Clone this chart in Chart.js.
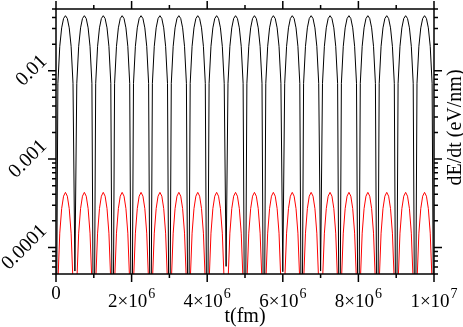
<!DOCTYPE html>
<html>
<head>
<meta charset="utf-8">
<script src="https://cdn.jsdelivr.net/npm/chart.js@4"></script>
<style>
  html, body { margin: 0; padding: 0; background: #fff; }
</style>
</head>
<body>
<canvas id="dedt" width="463" height="327"></canvas>
<script>
// time in fm
const timeFm = [
  0, 5e4, 1e5, 1.5e5, 2e5, 2.5e5, 3e5, 3.5e5, 4e5, 4.5e5,
  5e5, 5.5e5, 6e5, 6.5e5, 7e5, 7.5e5, 8e5, 8.5e5, 9e5, 9.5e5,
  1e6, 1.05e6, 1.1e6, 1.15e6, 1.2e6, 1.25e6, 1.3e6, 1.35e6, 1.4e6, 1.45e6,
  1.5e6, 1.55e6, 1.6e6, 1.65e6, 1.7e6, 1.75e6, 1.8e6, 1.85e6, 1.9e6, 1.95e6,
  2e6, 2.05e6, 2.1e6, 2.15e6, 2.2e6, 2.25e6, 2.3e6, 2.35e6, 2.4e6, 2.45e6,
  2.5e6, 2.55e6, 2.6e6, 2.65e6, 2.7e6, 2.75e6, 2.8e6, 2.85e6, 2.9e6, 2.95e6,
  3e6, 3.05e6, 3.1e6, 3.15e6, 3.2e6, 3.25e6, 3.3e6, 3.35e6, 3.4e6, 3.45e6,
  3.5e6, 3.55e6, 3.6e6, 3.65e6, 3.7e6, 3.75e6, 3.8e6, 3.85e6, 3.9e6, 3.95e6,
  4e6, 4.05e6, 4.1e6, 4.15e6, 4.2e6, 4.25e6, 4.3e6, 4.35e6, 4.4e6, 4.45e6,
  4.5e6, 4.55e6, 4.6e6, 4.65e6, 4.7e6, 4.75e6, 4.8e6, 4.85e6, 4.9e6, 4.95e6,
  5e6, 5.05e6, 5.1e6, 5.15e6, 5.2e6, 5.25e6, 5.3e6, 5.35e6, 5.4e6, 5.45e6,
  5.5e6, 5.55e6, 5.6e6, 5.65e6, 5.7e6, 5.75e6, 5.8e6, 5.85e6, 5.9e6, 5.95e6,
  6e6, 6.05e6, 6.1e6, 6.15e6, 6.2e6, 6.25e6, 6.3e6, 6.35e6, 6.4e6, 6.45e6,
  6.5e6, 6.55e6, 6.6e6, 6.65e6, 6.7e6, 6.75e6, 6.8e6, 6.85e6, 6.9e6, 6.95e6,
  7e6, 7.05e6, 7.1e6, 7.15e6, 7.2e6, 7.25e6, 7.3e6, 7.35e6, 7.4e6, 7.45e6,
  7.5e6, 7.55e6, 7.6e6, 7.65e6, 7.7e6, 7.75e6, 7.8e6, 7.85e6, 7.9e6, 7.95e6,
  8e6, 8.05e6, 8.1e6, 8.15e6, 8.2e6, 8.25e6, 8.3e6, 8.35e6, 8.4e6, 8.45e6,
  8.5e6, 8.55e6, 8.6e6, 8.65e6, 8.7e6, 8.75e6, 8.8e6, 8.85e6, 8.9e6, 8.95e6,
  9e6, 9.05e6, 9.1e6, 9.15e6, 9.2e6, 9.25e6, 9.3e6, 9.35e6, 9.4e6, 9.45e6,
  9.5e6, 9.55e6, 9.6e6, 9.65e6, 9.7e6, 9.75e6, 9.8e6, 9.85e6, 9.9e6, 9.95e6,
  1e7
];

// dE/dt (eV/nm), black curve
const dedtBlack = [
  1e-6, 0.0072, 0.0189, 0.0306, 0.0390, 0.042, 0.0390, 0.0306, 0.0189, 0.0072,
  5.4e-5, 0.0072, 0.0189, 0.0306, 0.0390, 0.042, 0.0390, 0.0306, 0.0189, 0.0072,
  1e-6, 0.0072, 0.0189, 0.0306, 0.0390, 0.042, 0.0390, 0.0306, 0.0189, 0.0072,
  1e-6, 0.0072, 0.0189, 0.0306, 0.0390, 0.042, 0.0390, 0.0306, 0.0189, 0.0072,
  1e-6, 0.0072, 0.0189, 0.0306, 0.0390, 0.042, 0.0390, 0.0306, 0.0189, 0.0072,
  1e-6, 0.0072, 0.0189, 0.0306, 0.0390, 0.042, 0.0390, 0.0306, 0.0189, 0.0072,
  1e-6, 0.0072, 0.0189, 0.0306, 0.0390, 0.042, 0.0390, 0.0306, 0.0189, 0.0072,
  1e-6, 0.0072, 0.0189, 0.0306, 0.0390, 0.042, 0.0390, 0.0306, 0.0189, 0.0072,
  1e-6, 0.0072, 0.0189, 0.0306, 0.0390, 0.042, 0.0390, 0.0306, 0.0189, 0.0072,
  6.1e-5, 0.0072, 0.0189, 0.0306, 0.0390, 0.042, 0.0390, 0.0306, 0.0189, 0.0072,
  1e-6, 0.0072, 0.0189, 0.0306, 0.0390, 0.042, 0.0390, 0.0306, 0.0189, 0.0072,
  1e-6, 0.0072, 0.0189, 0.0306, 0.0390, 0.042, 0.0390, 0.0306, 0.0189, 0.0072,
  5.3e-5, 0.0072, 0.0189, 0.0306, 0.0390, 0.042, 0.0390, 0.0306, 0.0189, 0.0072,
  1e-6, 0.0072, 0.0189, 0.0306, 0.0390, 0.042, 0.0390, 0.0306, 0.0189, 0.0072,
  5.4e-5, 0.0072, 0.0189, 0.0306, 0.0390, 0.042, 0.0390, 0.0306, 0.0189, 0.0072,
  1e-6, 0.0072, 0.0189, 0.0306, 0.0390, 0.042, 0.0390, 0.0306, 0.0189, 0.0072,
  1e-6, 0.0072, 0.0189, 0.0306, 0.0390, 0.042, 0.0390, 0.0306, 0.0189, 0.0072,
  1e-6, 0.0072, 0.0189, 0.0306, 0.0390, 0.042, 0.0390, 0.0306, 0.0189, 0.0072,
  1e-6, 0.0072, 0.0189, 0.0306, 0.0390, 0.042, 0.0390, 0.0306, 0.0189, 0.0072,
  1e-6, 0.0072, 0.0189, 0.0306, 0.0390, 0.042, 0.0390, 0.0306, 0.0189, 0.0072,
  1e-6
];

// dE/dt (eV/nm), red curve
const dedtRed = [
  1e-8, 4.0e-5, 1.45e-4, 2.75e-4, 3.8e-4, 4.2e-4, 3.8e-4, 2.75e-4, 1.45e-4, 4.0e-5,
  1e-8, 4.0e-5, 1.45e-4, 2.75e-4, 3.8e-4, 4.2e-4, 3.8e-4, 2.75e-4, 1.45e-4, 4.0e-5,
  1e-8, 4.0e-5, 1.45e-4, 2.75e-4, 3.8e-4, 4.2e-4, 3.8e-4, 2.75e-4, 1.45e-4, 4.0e-5,
  1e-8, 4.0e-5, 1.45e-4, 2.75e-4, 3.8e-4, 4.2e-4, 3.8e-4, 2.75e-4, 1.45e-4, 4.0e-5,
  1e-8, 4.0e-5, 1.45e-4, 2.75e-4, 3.8e-4, 4.2e-4, 3.8e-4, 2.75e-4, 1.45e-4, 4.0e-5,
  1e-8, 4.0e-5, 1.45e-4, 2.75e-4, 3.8e-4, 4.2e-4, 3.8e-4, 2.75e-4, 1.45e-4, 4.0e-5,
  1e-8, 4.0e-5, 1.45e-4, 2.75e-4, 3.8e-4, 4.2e-4, 3.8e-4, 2.75e-4, 1.45e-4, 4.0e-5,
  1e-8, 4.0e-5, 1.45e-4, 2.75e-4, 3.8e-4, 4.2e-4, 3.8e-4, 2.75e-4, 1.45e-4, 4.0e-5,
  1e-8, 4.0e-5, 1.45e-4, 2.75e-4, 3.8e-4, 4.2e-4, 3.8e-4, 2.75e-4, 1.45e-4, 4.0e-5,
  1e-8, 4.0e-5, 1.45e-4, 2.75e-4, 3.8e-4, 4.2e-4, 3.8e-4, 2.75e-4, 1.45e-4, 4.0e-5,
  1e-8, 4.0e-5, 1.45e-4, 2.75e-4, 3.8e-4, 4.2e-4, 3.8e-4, 2.75e-4, 1.45e-4, 4.0e-5,
  1e-8, 4.0e-5, 1.45e-4, 2.75e-4, 3.8e-4, 4.2e-4, 3.8e-4, 2.75e-4, 1.45e-4, 4.0e-5,
  1e-8, 4.0e-5, 1.45e-4, 2.75e-4, 3.8e-4, 4.2e-4, 3.8e-4, 2.75e-4, 1.45e-4, 4.0e-5,
  1e-8, 4.0e-5, 1.45e-4, 2.75e-4, 3.8e-4, 4.2e-4, 3.8e-4, 2.75e-4, 1.45e-4, 4.0e-5,
  1e-8, 4.0e-5, 1.45e-4, 2.75e-4, 3.8e-4, 4.2e-4, 3.8e-4, 2.75e-4, 1.45e-4, 4.0e-5,
  1e-8, 4.0e-5, 1.45e-4, 2.75e-4, 3.8e-4, 4.2e-4, 3.8e-4, 2.75e-4, 1.45e-4, 4.0e-5,
  1e-8, 4.0e-5, 1.45e-4, 2.75e-4, 3.8e-4, 4.2e-4, 3.8e-4, 2.75e-4, 1.45e-4, 4.0e-5,
  1e-8, 4.0e-5, 1.45e-4, 2.75e-4, 3.8e-4, 4.2e-4, 3.8e-4, 2.75e-4, 1.45e-4, 4.0e-5,
  1e-8, 4.0e-5, 1.45e-4, 2.75e-4, 3.8e-4, 4.2e-4, 3.8e-4, 2.75e-4, 1.45e-4, 4.0e-5,
  1e-8, 4.0e-5, 1.45e-4, 2.75e-4, 3.8e-4, 4.2e-4, 3.8e-4, 2.75e-4, 1.45e-4, 4.0e-5,
  1e-8
];

// axis ticks and labels
const xMajorTicks = [0, 2e6, 4e6, 6e6, 8e6, 1e7];
const xMinorTicks = [1e6, 3e6, 5e6, 7e6, 9e6];
const xLabelBase = ['0', '2×10', '4×10', '6×10', '8×10', '1×10'];
const xLabelExp = ['', '6', '6', '6', '6', '7'];
const yMajorTicks = [1e-4, 1e-3, 1e-2];
const yMinorTicks = [5e-5, 6e-5, 7e-5, 8e-5, 9e-5,
  2e-4, 3e-4, 4e-4, 5e-4, 6e-4, 7e-4, 8e-4, 9e-4,
  2e-3, 3e-3, 4e-3, 5e-3, 6e-3, 7e-3, 8e-3, 9e-3,
  2e-2, 3e-2, 4e-2, 5e-2];
const yTickLabels = ['0.0001', '0.001', '0.01'];
const xTitle = 't(fm)';
const yTitle = 'dE/dt (eV/nm)';

const serif = '"Liberation Serif", "Times New Roman", serif';

// frame with outward ticks on all four sides, tick labels and the right-hand title
const frameAndTicks = {
  id: 'frameAndTicks',
  afterDatasetsDraw(chart) {
    const { ctx, chartArea: a, scales: { x, y } } = chart;
    ctx.save();
    ctx.strokeStyle = '#000';
    ctx.lineWidth = 1.5;
    ctx.strokeRect(a.left, a.top, a.right - a.left, a.bottom - a.top);
    ctx.beginPath();
    xMajorTicks.concat(xMinorTicks).forEach(v => {
      const px = x.getPixelForValue(v);
      const len = xMajorTicks.includes(v) ? 8 : 4;
      ctx.moveTo(px, a.bottom); ctx.lineTo(px, a.bottom + len);
      ctx.moveTo(px, a.top); ctx.lineTo(px, a.top - len);
    });
    yMajorTicks.concat(yMinorTicks).forEach(v => {
      const py = y.getPixelForValue(v);
      const len = yMajorTicks.includes(v) ? 8 : 4;
      ctx.moveTo(a.left, py); ctx.lineTo(a.left - len, py);
      ctx.moveTo(a.right, py); ctx.lineTo(a.right + len, py);
    });
    ctx.stroke();

    ctx.fillStyle = '#000';
    ctx.textBaseline = 'alphabetic';

    // x tick labels, exponent drawn as a real superscript
    xMajorTicks.forEach((v, i) => {
      const px = x.getPixelForValue(v);
      ctx.font = '19px ' + serif;
      const wb = ctx.measureText(xLabelBase[i]).width;
      ctx.font = '14px ' + serif;
      const we = xLabelExp[i] ? ctx.measureText(xLabelExp[i]).width + 1 : 0;
      const x0 = px - (wb + we) / 2;
      const base = xLabelExp[i] ? a.bottom + 33 : a.bottom + 25;
      ctx.textAlign = 'left';
      ctx.font = '19px ' + serif;
      ctx.fillText(xLabelBase[i], x0, base);
      if (xLabelExp[i]) {
        ctx.font = '14px ' + serif;
        ctx.fillText(xLabelExp[i], x0 + wb + 1, base - 9);
      }
    });

    // y tick labels, rotated 45 degrees and centred on their tick
    ctx.font = '20px ' + serif;
    ctx.textAlign = 'center';
    ctx.textBaseline = 'middle';
    yMajorTicks.forEach((v, i) => {
      const py = y.getPixelForValue(v);
      const w = ctx.measureText(yTickLabels[i]).width;
      ctx.save();
      ctx.translate(a.left - 12 - w * 0.354, py);
      ctx.rotate(-Math.PI / 4);
      ctx.fillText(yTickLabels[i], 0, 0);
      ctx.restore();
    });

    ctx.font = '20px ' + serif;
    ctx.translate(a.right + 22, (a.top + a.bottom) / 2 - 14);
    ctx.rotate(-Math.PI / 2);
    ctx.fillText(yTitle, 0, 0);
    ctx.restore();
  }
};

const ctx = document.getElementById('dedt').getContext('2d');

new Chart(ctx, {
  type: 'line',
  data: {
    datasets: [
      {
        data: timeFm.map((t, i) => ({ x: t, y: dedtBlack[i] })),
        borderColor: '#000000',
        borderWidth: 1,
        pointRadius: 0,
        tension: 0
      },
      {
        data: timeFm.map((t, i) => ({ x: t, y: dedtRed[i] })),
        borderColor: '#ff0000',
        borderWidth: 1,
        pointRadius: 0,
        tension: 0
      }
    ]
  },
  options: {
    responsive: false,
    animation: false,
    devicePixelRatio: 1,
    layout: { padding: { top: 9, right: 29, left: 0, bottom: 0 } },
    plugins: {
      legend: { display: false },
      tooltip: { enabled: false }
    },
    scales: {
      x: {
        type: 'linear',
        position: 'bottom',
        min: 0,
        max: 1e7,
        grid: { display: false, drawTicks: false },
        border: { display: false },
        ticks: { display: false },
        afterFit: scale => { scale.height = 53; },
        title: {
          display: true,
          text: xTitle,
          color: '#000',
          font: { family: serif, size: 20, lineHeight: 1 },
          padding: { top: 0, bottom: 0 }
        }
      },
      y: {
        type: 'logarithmic',
        position: 'left',
        min: 5e-5,
        max: 0.05,
        grid: { display: false, drawTicks: false },
        border: { display: false },
        ticks: { display: false },
        afterFit: scale => { scale.width = 56; }
      }
    }
  },
  plugins: [frameAndTicks]
});
</script>
</body>
</html>
